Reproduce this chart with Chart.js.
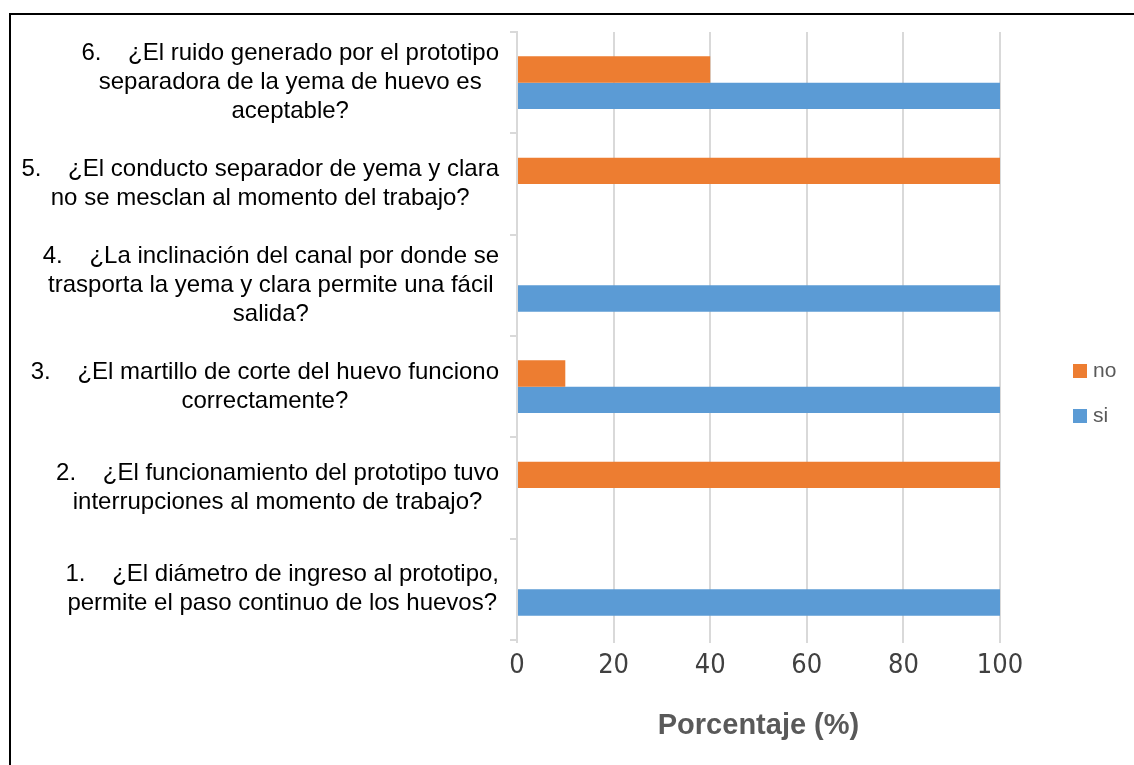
<!DOCTYPE html>
<html>
<head>
<meta charset="utf-8">
<script src="https://cdn.jsdelivr.net/npm/chart.js@4.4.1/dist/chart.umd.min.js"></script>
<style>
  html, body { margin: 0; padding: 0; background: #fff; }
  #wrap { width: 1134px; height: 765px; position: relative; }
</style>
</head>
<body>
<div id="wrap"><canvas id="chart" width="1134" height="765"></canvas></div>
<script>
// Questions, top to bottom (each entry = wrapped lines)
const questions = [
  ['6.    ¿El ruido generado por el prototipo', 'separadora de la yema de huevo es', 'aceptable?'],
  ['5.    ¿El conducto separador de yema y clara', 'no se mesclan al momento del trabajo?'],
  ['4.    ¿La inclinación del canal por donde se', 'trasporta la yema y clara permite una fácil', 'salida?'],
  ['3.    ¿El martillo de corte del huevo funciono', 'correctamente?'],
  ['2.    ¿El funcionamiento del prototipo tuvo', 'interrupciones al momento de trabajo?'],
  ['1.    ¿El diámetro de ingreso al prototipo,', 'permite el paso continuo de los huevos?']
];
const noValues = [40, 100, 0, 10, 100, 0];
const siValues = [100, 0, 100, 100, 0, 100];
const seriesNames = ['no', 'si'];
const xTicks = [0, 20, 40, 60, 80, 100];

const ORANGE = '#ED7D31';
const BLUE = '#5B9BD5';
const AXIS = '#d9d9d9';

// ---- Wrapped category labels, each block centred on itself ----
const questionLabels = {
  id: 'questionLabels',
  afterDraw(chart) {
    const { ctx } = chart;
    const y = chart.scales.y;
    const lh = 29;
    ctx.save();
    ctx.font = '24px "Liberation Sans", Arial, sans-serif';
    ctx.fillStyle = '#000';
    ctx.textAlign = 'center';
    ctx.textBaseline = 'middle';
    questions.forEach((lines, i) => {
      const cy = y.getPixelForValue(i);
      const widest = Math.max(...lines.map(l => ctx.measureText(l).width));
      const cx = y.right - 18 - widest / 2;
      lines.forEach((l, j) => {
        ctx.fillText(l, cx, cy + (j - (lines.length - 1) / 2) * lh);
      });
    });
    ctx.restore();
  }
};

// ---- Legend at the right + frame lines ----
const sideLegend = {
  id: 'sideLegend',
  afterDraw(chart) {
    const { ctx, chartArea } = chart;
    ctx.save();
    ctx.font = '21px "Liberation Sans", Arial, sans-serif';
    ctx.textBaseline = 'middle';
    ctx.textAlign = 'left';
    chart.data.datasets.forEach((ds, i) => {
      const x = chartArea.right + 73;
      const yc = 371 + i * 45;
      ctx.fillStyle = ds.backgroundColor;
      ctx.fillRect(x, yc - 7, 14, 14);
      ctx.fillStyle = '#595959';
      ctx.fillText(ds.label, x + 20, yc);
    });
    // outer frame (left + top only)
    ctx.strokeStyle = '#000';
    ctx.lineWidth = 2;
    ctx.beginPath();
    ctx.moveTo(10, chart.height);
    ctx.lineTo(10, 14);
    ctx.lineTo(chart.width, 14);
    ctx.stroke();
    ctx.restore();
  }
};

const config = {
  type: 'bar',
  data: {
    labels: questions,
    datasets: [
      { label: seriesNames[0], data: noValues, backgroundColor: ORANGE },
      { label: seriesNames[1], data: siValues, backgroundColor: BLUE }
    ]
  },
  options: {
    indexAxis: 'y',
    responsive: false,
    animation: false,
    layout: { padding: { left: 0, right: 134, top: 32, bottom: 0 } },
    datasets: { bar: { categoryPercentage: 0.52, barPercentage: 1.0 } },
    plugins: {
      legend: { display: false },
      tooltip: { enabled: false }
    },
    scales: {
      x: {
        min: 0,
        max: 100,
        afterBuildTicks: (s) => { s.ticks = xTicks.map(v => ({ value: v })); },
        afterFit: (s) => { s.height = 125; },
        grid: { color: AXIS, lineWidth: 2, drawTicks: true, tickLength: 3 },
        border: { display: false },
        ticks: {
          color: '#404040',
          padding: 7,
          font: { family: '"Liberation Sans Narrow", "DejaVu Sans Condensed", sans-serif', size: 27 }
        },
        title: {
          display: true,
          text: 'Porcentaje (%)',
          color: '#595959',
          font: { family: '"Liberation Sans", Arial, sans-serif', size: 29, weight: 'bold' },
          padding: { top: 0, bottom: 22 }
        }
      },
      y: {
        afterFit: (s) => { s.width = 517; },
        grid: { drawOnChartArea: false, drawTicks: true, tickLength: 7, color: AXIS, lineWidth: 2 },
        border: { display: true, color: AXIS, width: 2 },
        ticks: { display: false }
      }
    }
  },
  plugins: [questionLabels, sideLegend]
};

new Chart(document.getElementById('chart'), config);
</script>
</body>
</html>
